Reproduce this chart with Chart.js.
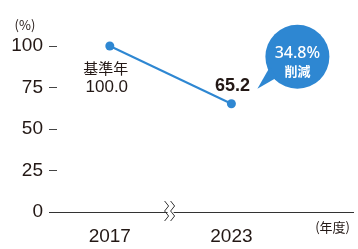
<!DOCTYPE html>
<html>
<head>
<meta charset="utf-8">
<script src="https://cdn.jsdelivr.net/npm/chart.js@4/dist/chart.umd.min.js"></script>
<style>
html,body{margin:0;padding:0;background:#fff;}
#wrap{width:358px;height:249px;position:relative;}
</style>
</head>
<body>
<div id="wrap"><canvas id="c"></canvas></div>
<script>
// ---- data ----
const categories = ['2017', '2023'];
const values = [100, 65.2];
const yTicks = [0, 25, 50, 75, 100];
const unitLabel = '(%)';
const xUnitLabel = '(年度)';
const baseLabel = '基準年';
const reduceLabel = '削減';

// category slots: blank, 2017, break, 2023, blank, blank
const slots = ['', categories[0], '', categories[1], '', ''];
const slotData = [null, values[0], null, values[1], null, null];
const breakSlot = 2;

const TEXT = '#231815';
const BLUE = '#2E87D2';
const LATIN = '"Liberation Sans", "Noto Sans CJK JP", sans-serif';
const CJK = '"Noto Sans CJK JP", "Liberation Sans", sans-serif';

const overlay = {
  id: 'overlay',
  afterDraw(chart) {
    const ctx = chart.ctx;
    const xs = chart.scales.x, ys = chart.scales.y;
    const area = chart.chartArea;
    ctx.save();
    // axis break symbol
    const bx = xs.getPixelForValue(breakSlot);
    const by = area.bottom;
    ctx.fillStyle = '#fff';
    ctx.fillRect(bx - 3, by - 3, 6, 6);
    ctx.strokeStyle = '#333';
    ctx.lineWidth = 1;
    [-3, 3].forEach(off => {
      ctx.beginPath();
      ctx.moveTo(bx + off - 3, by - 11);
      ctx.lineTo(bx + off + 1, by - 6);
      ctx.lineTo(bx + off - 3, by - 1);
      ctx.lineTo(bx + off + 1, by + 4);
      ctx.lineTo(bx + off - 3, by + 9);
      ctx.stroke();
    });

    // units
    ctx.fillStyle = TEXT;
    ctx.textAlign = 'center';
    ctx.textBaseline = 'middle';
    ctx.font = '13px ' + CJK;
    ctx.fillText(unitLabel, 25, area.top - 21);
    ctx.textAlign = 'right';
    ctx.fillText(xUnitLabel, area.right - 3, by + 15);

    // point annotations
    const p0x = xs.getPixelForValue(1), p0y = ys.getPixelForValue(values[0]);
    const p1x = xs.getPixelForValue(3), p1y = ys.getPixelForValue(values[1]);
    ctx.textAlign = 'center';
    ctx.font = '15px ' + CJK;
    ctx.fillText(baseLabel, p0x - 4, p0y + 22);
    ctx.font = '17px ' + LATIN;
    ctx.fillText(values[0].toFixed(1), p0x - 3, p0y + 41);
    ctx.font = 'bold 18px ' + LATIN;
    ctx.fillText(values[1].toFixed(1), p1x + 1, p1y - 18);

    // bubble
    const cx = p1x + 66, cy = p1y - 47, r = 32;
    ctx.fillStyle = BLUE;
    ctx.beginPath();
    ctx.arc(cx, cy, r, 0, Math.PI * 2);
    ctx.fill();
    ctx.beginPath();
    const a1 = 2.35, a2 = 2.75;
    ctx.moveTo(cx + r * Math.cos(a1) + 2, cy + r * Math.sin(a1) - 2);
    ctx.lineTo(p1x + 26, p1y - 15);
    ctx.lineTo(cx + r * Math.cos(a2) + 2, cy + r * Math.sin(a2) - 2);
    ctx.closePath();
    ctx.fill();
    const pct = ((values[0] - values[1]) / values[0] * 100).toFixed(1) + '%';
    ctx.fillStyle = '#fff';
    ctx.font = '500 16px "Noto Sans", ' + LATIN;
    ctx.fillText(pct, cx, cy - 3);
    ctx.font = 'bold 13px ' + CJK;
    ctx.fillText(reduceLabel, cx, cy + 14);
    ctx.restore();
  }
};

new Chart(document.getElementById('c'), {
  type: 'line',
  data: {
    labels: slots,
    datasets: [{
      data: slotData,
      spanGaps: true,
      clip: false,
      borderColor: BLUE,
      backgroundColor: BLUE,
      borderWidth: 2,
      pointRadius: 4.5,
      pointBackgroundColor: BLUE,
      pointBorderWidth: 0,
      tension: 0
    }]
  },
  options: {
    responsive: true,
    maintainAspectRatio: false,
    animation: false,
    events: [],
    layout: { padding: { top: 46, right: 4, left: 0, bottom: 0 } },
    plugins: { legend: { display: false }, tooltip: { enabled: false } },
    scales: {
      x: {
        type: 'category',
        offset: false,
        grid: { display: false },
        border: { display: true, color: '#333', width: 1 },
        ticks: {
          autoSkip: false, maxRotation: 0, padding: 5,
          color: TEXT, font: { family: LATIN, size: 19 }
        },
        afterFit(s) { s.height = 37; }
      },
      y: {
        min: 0, max: 100,
        afterBuildTicks(s) { s.ticks = yTicks.map(v => ({ value: v })); },
        grid: {
          display: true, drawOnChartArea: false, drawTicks: true,
          tickLength: -8, color: '#444', lineWidth: 1
        },
        border: { display: false },
        ticks: {
          padding: 14,
          color: TEXT,
          font: { family: LATIN, size: 19 }
        },
        afterFit(s) { s.width = 49; }
      }
    }
  },
  plugins: [overlay]
});
</script>
</body>
</html>
